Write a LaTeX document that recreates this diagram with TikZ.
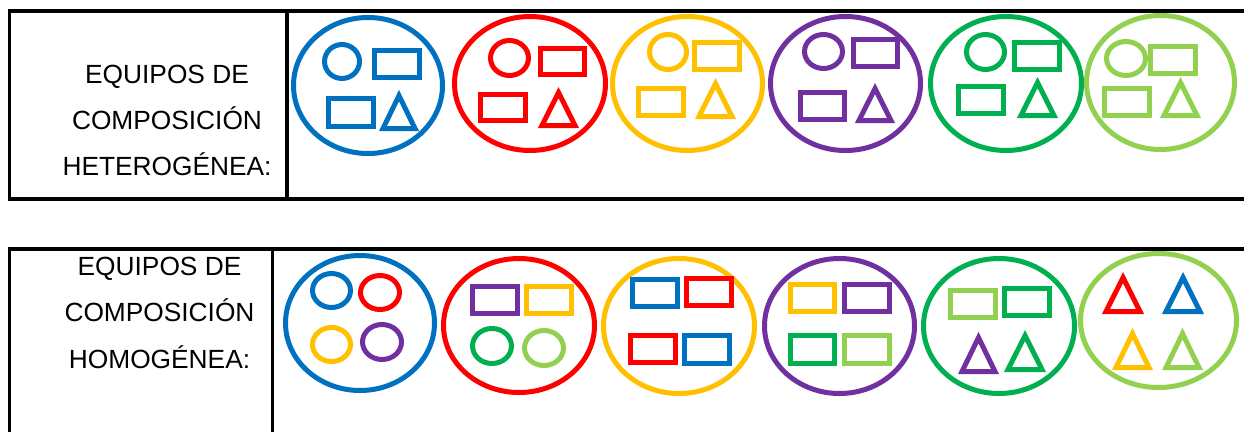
\documentclass[tikz,border=0pt]{standalone}
\usepackage{fontspec}
\setmainfont{Liberation Sans}
\definecolor{cblue}{HTML}{0070C0}
\definecolor{cred}{HTML}{FF0000}
\definecolor{cyellow}{HTML}{FFC000}
\definecolor{cpurple}{HTML}{7030A0}
\definecolor{cgreen}{HTML}{00B050}
\definecolor{clgreen}{HTML}{92D050}
\tikzset{
  shp/.style={line width=5pt},
  frame/.style={line width=3.6pt, black},
  lbl/.style={anchor=base, inner sep=0pt, font=\fontsize{26.3}{30}\selectfont}
}
% outer extents x1,y1,x2,y2 (pixels, y downward)
\newcommand\oell[5]{\draw[shp,#1] ({(#2+#4)/2},{(#3+#5)/2}) ellipse [x radius={((#4-#2)/2-2.5)*1pt}, y radius={((#5-#3)/2-2.5)*1pt}];}
\newcommand\orect[5]{\draw[shp,#1] ({#2+2.5},{#3+2.5}) rectangle ({#4-2.5},{#5-2.5});}
\newcommand\otri[5]{\draw[shp,#1] ({#2+4},{#5-2.5}) -- ({(#2+#4)/2},{#3+5.6}) -- ({#4-4},{#5-2.5}) -- cycle;}
\begin{document}
\begin{tikzpicture}[x=1pt,y=-1pt]
\useasboundingbox (0,0) rectangle (1244,431);
% ---------- top table ----------
\draw[frame] (1244,11) -- (9.5,11) -- (9.5,199) -- (1244,199);
\draw[frame] (287,11) -- (287,199);
\node[lbl] (ha) at (167,83.5) {EQUIPOS DE};
\node[lbl] (hb) at (167,129.5) {COMPOSICIÓN};
\node[lbl] (hc) at (167,175.5) {HETEROGÉNEA:};
% blue
\oell{cblue}{291}{15}{445}{156}
\oell{cblue}{322}{42}{362}{81}
\orect{cblue}{372}{48}{422}{80}
\orect{cblue}{326}{96}{376}{129}
\otri{cblue}{379}{90}{419}{131}
% red
\oell{cred}{452}{14}{608}{153}
\oell{cred}{488}{38}{531}{78}
\orect{cred}{538}{46}{587}{77}
\orect{cred}{478}{92}{528}{123}
\otri{cred}{538}{87}{579}{128}
% yellow
\oell{cyellow}{610}{14}{765}{153}
\oell{cyellow}{647}{32}{689}{72}
\orect{cyellow}{692}{40}{742}{72}
\orect{cyellow}{636}{86}{686}{118}
\otri{cyellow}{695}{78}{736}{119}
% purple
\oell{cpurple}{768}{14}{923}{153}
\oell{cpurple}{802}{32}{845}{71}
\orect{cpurple}{851}{37}{900}{69}
\orect{cpurple}{798}{90}{847}{122}
\otri{cpurple}{855}{83}{895}{123}
% green
\oell{cgreen}{928}{14}{1084}{153}
\oell{cgreen}{964}{32}{1007}{72}
\orect{cgreen}{1012}{40}{1062}{72}
\orect{cgreen}{956}{84}{1006}{116}
\otri{cgreen}{1017}{77}{1058}{118}
% light green
\oell{clgreen}{1084}{13}{1237}{152}
\oell{clgreen}{1104}{39}{1148}{78}
\orect{clgreen}{1148}{44}{1198}{76}
\orect{clgreen}{1102}{86}{1152}{118}
\otri{clgreen}{1160}{77}{1201}{118}
% ---------- bottom table ----------
\draw[frame] (1244,249) -- (9.5,249) -- (9.5,440);
\draw[frame] (272.5,249) -- (272.5,440);
\node[lbl] (oa) at (159.5,275) {EQUIPOS DE};
\node[lbl] (ob) at (159.5,321.5) {COMPOSICIÓN};
\node[lbl] (oc) at (159.5,368) {HOMOGÉNEA:};
% blue ellipse: circles
\oell{cblue}{283}{253}{437}{393}
\oell{cblue}{310}{271}{353}{310}
\oell{cred}{358}{273}{402}{312}
\oell{cyellow}{310}{325}{353}{364}
\oell{cpurple}{360}{322}{404}{362}
% red ellipse
\oell{cred}{441}{256}{597}{395}
\orect{cpurple}{470}{284}{520}{316}
\orect{cyellow}{524}{284}{574}{316}
\oell{cgreen}{470}{326}{514}{366}
\oell{clgreen}{522}{328}{566}{368}
% yellow ellipse
\oell{cyellow}{601}{256}{757}{396}
\orect{cblue}{630}{277}{680}{309}
\orect{cred}{684}{276}{734}{308}
\orect{cred}{628}{333}{678}{365}
\orect{cblue}{682}{333}{732}{366}
% purple ellipse
\oell{cpurple}{762}{256}{917}{396}
\orect{cyellow}{788}{282}{837}{314}
\orect{cpurple}{842}{282}{892}{314}
\orect{cgreen}{788}{333}{837}{366}
\orect{clgreen}{842}{333}{892}{366}
% green ellipse
\oell{cgreen}{921}{256}{1077}{396}
\orect{clgreen}{948}{288}{998}{320}
\orect{cgreen}{1002}{286}{1052}{318}
\otri{cpurple}{958}{332}{999}{374}
\otri{cgreen}{1004}{330}{1046}{372}
% light green ellipse
\oell{clgreen}{1078}{251}{1239}{390}
\otri{cred}{1102}{272}{1144}{314}
\otri{cblue}{1162}{272}{1204}{314}
\otri{cyellow}{1112}{328}{1153}{370}
\otri{clgreen}{1162}{328}{1203}{370}
\end{tikzpicture}
\end{document}
